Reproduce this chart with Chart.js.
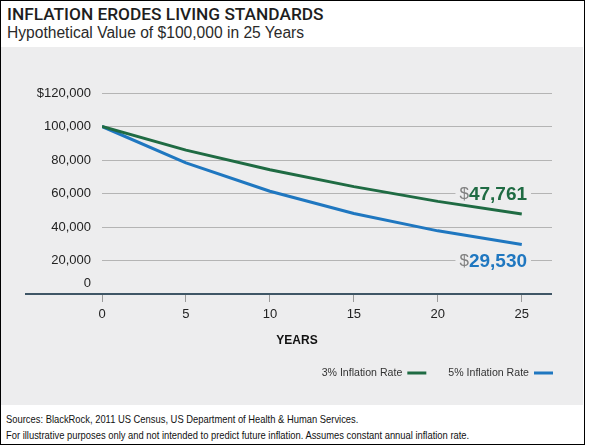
<!DOCTYPE html>
<html>
<head>
<meta charset="utf-8">
<script src="https://cdn.jsdelivr.net/npm/chart.js@4/dist/chart.umd.min.js"></script>
<style>
	html, body { margin: 0; padding: 0; background: #fff; }
	#frame { position: relative; width: 583px; height: 443px; border: 1px solid #000; overflow: hidden; font-family: "Liberation Sans", Arial, sans-serif; }
	#title { position: absolute; left: 6px; top: 3px; font-family: Roboto, "Liberation Sans", sans-serif; font-weight: 500; font-size: 17.3px; color: #1e1e1e; }
	#subtitle { position: absolute; left: 6px; top: 23px; font-size: 15.6px; color: #2a2a2a; }
	#panel { position: absolute; left: 0px; top: 46px; width: 582px; height: 358px; background: #ededee; }
	#notes { position: absolute; left: 5px; top: 410px; font-size: 11px; line-height: 16px; color: #111; white-space: nowrap; transform: scaleX(0.853); transform-origin: 0 0; }
</style>
</head>
<body>
<div id="frame">
	<div id="title">INFLATION ERODES LIVING STANDARDS</div>
	<div id="subtitle">Hypothetical Value of $100,000 in 25 Years</div>
	<div id="panel"><canvas id="myChart" width="582" height="358"></canvas></div>
	<div id="notes">
		Sources: BlackRock, 2011 US Census, US Department of Health &amp; Human Services.<br>
		For illustrative purposes only and not intended to predict future inflation. Assumes constant annual inflation rate.
	</div>
</div>

<script>
// data
const years = [0, 5, 10, 15, 20, 25];
const rate3 = [100000, 85900, 74200, 64100, 55300, 47761];
const rate5 = [100000, 78300, 61350, 48100, 37700, 29530];
const seriesNames = ["3% Inflation Rate", "5% Inflation Rate"];
const yTicks = [0, 20000, 40000, 60000, 80000, 100000, 120000];

const green = "#1f6b43";
const blue = "#1f77c0";
const panelBg = "#ededee";

function toPoints(vals) {
	let pts = [];
	for (let i = 0; i < years.length; i++) {
		pts.push({ x: years[i], y: vals[i] });
	}
	return pts;
}

function money(v) {
	return v.toLocaleString("en-US");
}

// extra drawing: axis line, 0 label, end labels, YEARS, legend
const extras = {
	id: "extras",
	beforeDatasetsDraw(chart) {
		const ctx = chart.ctx;
		const x = chart.scales.x;
		const y = chart.scales.y;

		// end value labels sitting on gridlines
		const labels = [
			{ val: rate3[rate3.length - 1], at: 60000, color: green },
			{ val: rate5[rate5.length - 1], at: 20000, color: blue }
		];
		const cx = x.getPixelForValue(23.3);
		labels.forEach(function(l) {
			const py = y.getPixelForValue(l.at);
			ctx.save();
			ctx.font = "17px 'Liberation Sans', Arial, sans-serif";
			const dw = ctx.measureText("$").width;
			ctx.font = "bold 19px 'Liberation Sans', Arial, sans-serif";
			const nw = ctx.measureText(money(l.val)).width;
			const w = dw + nw;
			const left = cx - w / 2;
			ctx.fillStyle = panelBg;
			ctx.fillRect(left - 4, py - 3, w + 8, 6);
			ctx.textBaseline = "middle";
			ctx.font = "17px 'Liberation Sans', Arial, sans-serif";
			ctx.fillStyle = "#808080";
			ctx.fillText("$", left, py + 1);
			ctx.font = "bold 19px 'Liberation Sans', Arial, sans-serif";
			ctx.fillStyle = l.color;
			ctx.fillText(money(l.val), left + dw, py + 1);
			ctx.restore();
		});
	},
	afterDraw(chart) {
		const ctx = chart.ctx;
		const y = chart.scales.y;
		const area = chart.chartArea;
		const base = y.getPixelForValue(0);

		ctx.save();
		// x axis line reaching past the y labels
		ctx.strokeStyle = "#3f5666";
		ctx.lineWidth = 2;
		ctx.beginPath();
		ctx.moveTo(24, base);
		ctx.lineTo(area.right, base);
		ctx.stroke();

		// zero label above the axis
		ctx.fillStyle = "#222";
		ctx.font = "13px 'Liberation Sans', Arial, sans-serif";
		ctx.textAlign = "right";
		ctx.textBaseline = "middle";
		ctx.fillText("0", area.left - 11, base - 11);

		// axis title
		ctx.textAlign = "center";
		ctx.font = "bold 12px 'Liberation Sans', Arial, sans-serif";
		ctx.fillStyle = "#111";
		ctx.fillText("YEARS", (area.left + area.right) / 2 - 30, base + 47);

		// legend, text first then the line sample
		ctx.font = "10.6px 'Liberation Sans', Arial, sans-serif";
		ctx.textAlign = "left";
		const ly = base + 79;
		const colors = [green, blue];
		let rx = area.right + 1;
		let items = [];
		for (let i = seriesNames.length - 1; i >= 0; i--) {
			const tw = ctx.measureText(seriesNames[i]).width;
			const start = rx - 19 - 5 - tw;
			items.unshift({ name: seriesNames[i], x: start, tw: tw, c: colors[i] });
			rx = start - 22;
		}
		items.forEach(function(it) {
			ctx.fillStyle = "#333";
			ctx.fillText(it.name, it.x, ly);
			ctx.strokeStyle = it.c;
			ctx.lineWidth = 3;
			ctx.beginPath();
			ctx.moveTo(it.x + it.tw + 5, ly);
			ctx.lineTo(it.x + it.tw + 24, ly);
			ctx.stroke();
		});
		ctx.restore();
	}
};

const ctx = document.getElementById("myChart");

new Chart(ctx, {
	type: "line",
	data: {
		datasets: [{
			label: seriesNames[0],
			data: toPoints(rate3),
			borderColor: green,
			borderWidth: 3,
			pointRadius: 0,
			borderJoinStyle: "round"
		},
		{
			label: seriesNames[1],
			data: toPoints(rate5),
			borderColor: blue,
			borderWidth: 3,
			pointRadius: 0,
			borderJoinStyle: "round"
		}]
	},
	plugins: [extras],
	options: {
		responsive: false,
		animation: false,
		events: [],
		layout: { padding: { top: 46, right: 31, bottom: 0, left: 0 } },
		plugins: {
			legend: { display: false },
			tooltip: { enabled: false }
		},
		scales: {
			x: {
				type: "linear",
				min: 0,
				max: 26.8,
				afterFit: function(scale) { scale.height = 111; },
				border: { display: false },
				grid: { drawOnChartArea: false, drawTicks: true, tickLength: 8, color: "#9a9a9a" },
				ticks: {
					stepSize: 5,
					includeBounds: false,
					padding: 5,
					color: "#222",
					font: { family: "'Liberation Sans', Arial, sans-serif", size: 13 },
					maxRotation: 0
				}
			},
			y: {
				min: 0,
				max: 120000,
				afterFit: function(scale) { scale.width = 101; },
				afterBuildTicks: function(scale) {
					scale.ticks = yTicks.map(function(v) { return { value: v }; });
				},
				border: { display: false },
				grid: {
					drawTicks: false,
					color: function(c) { return c.tick && c.tick.value === 0 ? "rgba(0,0,0,0)" : "#b4b4b4"; }
				},
				ticks: {
					padding: 11,
					color: "#222",
					font: { family: "'Liberation Sans', Arial, sans-serif", size: 13 },
					callback: function(v) {
						if (v === 0) return "";
						if (v === 120000) return "$" + money(v);
						return money(v);
					}
				}
			}
		}
	}
});
</script>
</body>
</html>
